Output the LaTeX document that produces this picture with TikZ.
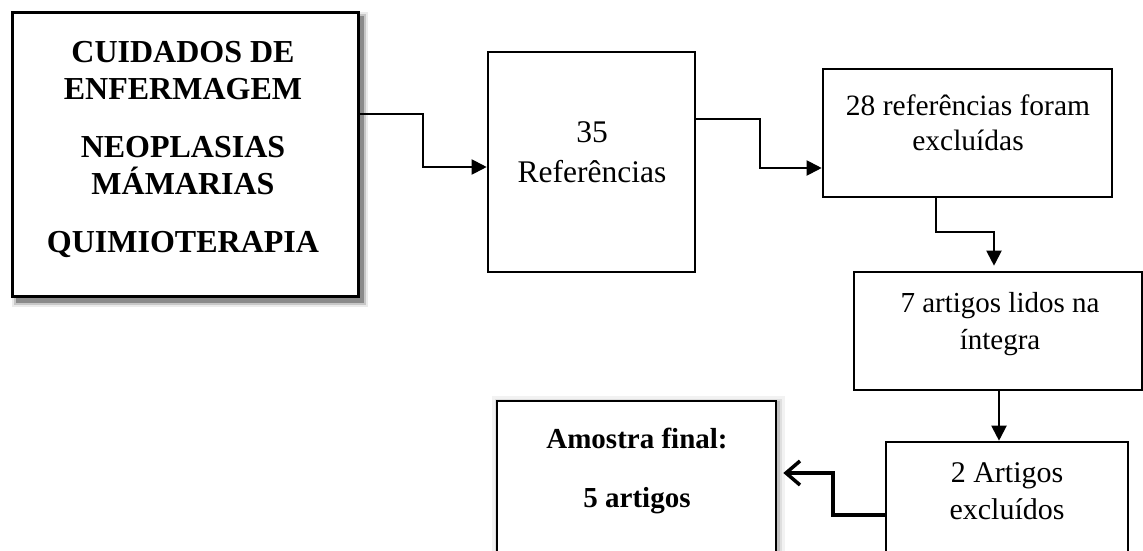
\documentclass[tikz,border=0pt]{standalone}
\usepackage{fontspec}
\setmainfont{Liberation Serif}
\usetikzlibrary{arrows.meta,backgrounds,calc}
\begin{document}
\begin{tikzpicture}[x=1pt,y=-1pt,
  box/.style={draw=black,line width=2.6pt,fill=white,inner sep=0pt},
  txt/.style={align=center,font=\fontsize{30pt}{37pt}\selectfont,inner sep=0pt,anchor=base},
  btxt/.style={align=center,font=\bfseries\fontsize{32pt}{37pt}\selectfont,inner sep=0pt,anchor=base},
  conn/.style={line width=2pt,-{Triangle[length=15pt,width=15pt]}},
  fconn/.style={line width=3.5pt,-{Straight Barb[length=14pt,width=24pt]}},
  ]
\useasboundingbox (0,0) rectangle (1143,551);
\clip (0,0) rectangle (1143,551);

% boxes
\node[box,line width=3pt,minimum width=346pt,minimum height=283pt] (b1) at (185,154.5) {};
\node[box,minimum width=207pt,minimum height=220pt] (b2) at (591.5,162) {};
\node[box,minimum width=289pt,minimum height=128pt] (b3) at (967.5,133) {};
\node[box,minimum width=288pt,minimum height=118pt] (b4) at (998,331) {};
\node[box,minimum width=242pt,minimum height=133pt] (b5) at (1007,508.5) {};
\node[box,minimum width=279pt,minimum height=170pt] (b6) at (636.5,486) {};

% shadows
\begin{pgfonlayer}{background}
\fill[white] (0,0) rectangle (1143,551);
\foreach \e/\o in {0/0.3,2/0.15,4/0.08}{
  \fill[black,opacity=\o] ($(b1.north west)+(5-\e,5-\e)$) rectangle ($(b1.south east)+(4+\e,5+\e)$);}
\foreach \e/\o in {1/0.12,3/0.08,6/0.05}{
  \fill[black,opacity=\o] ($(b6.north west)+(2-\e,2-\e)$) rectangle ($(b6.south east)+(2+\e,2+\e)$);}
\end{pgfonlayer}

% texts (anchor = baseline of last line)
\node[btxt] (t1) at (183,252) {CUIDADOS DE\\ENFERMAGEM\\[21pt]NEOPLASIAS\\MÁMARIAS\\[21pt]QUIMIOTERAPIA};
\node[txt,font=\fontsize{31.5pt}{40pt}\selectfont] (t2) at (592,182) {35\\Referências};
\node[txt,font=\fontsize{29.5pt}{35pt}\selectfont] (t3) at (968,150) {28 referências foram\\excluídas};
\node[txt,font=\fontsize{29pt}{37pt}\selectfont] (t4) at (1000,349) {7 artigos lidos na\\íntegra};
\node[txt] (t5) at (1007,519) {2 Artigos\\excluídos};
\node[btxt,font=\bfseries\fontsize{29pt}{59pt}\selectfont] (t6) at (637,507) {Amostra final:\\5 artigos};

% connectors
\draw[conn] (b1.east |- 0,114) -- (423,114) |- (b2.west |- 0,167);
\draw[conn] (b2.east |- 0,119) -- (760,119) |- (b3.west |- 0,168);
\draw[conn,shorten >=5pt] (b3.south -| 936,0) -- (936,232) -| (b4.north -| 994,0);
\draw[conn] (b4.south -| 999,0) -- (b5.north -| 999,0);
\draw[fconn,shorten >=6pt] (b5.west |- 0,515) -- (833,515) |- (b6.east |- 0,473);
\end{tikzpicture}
\end{document}
